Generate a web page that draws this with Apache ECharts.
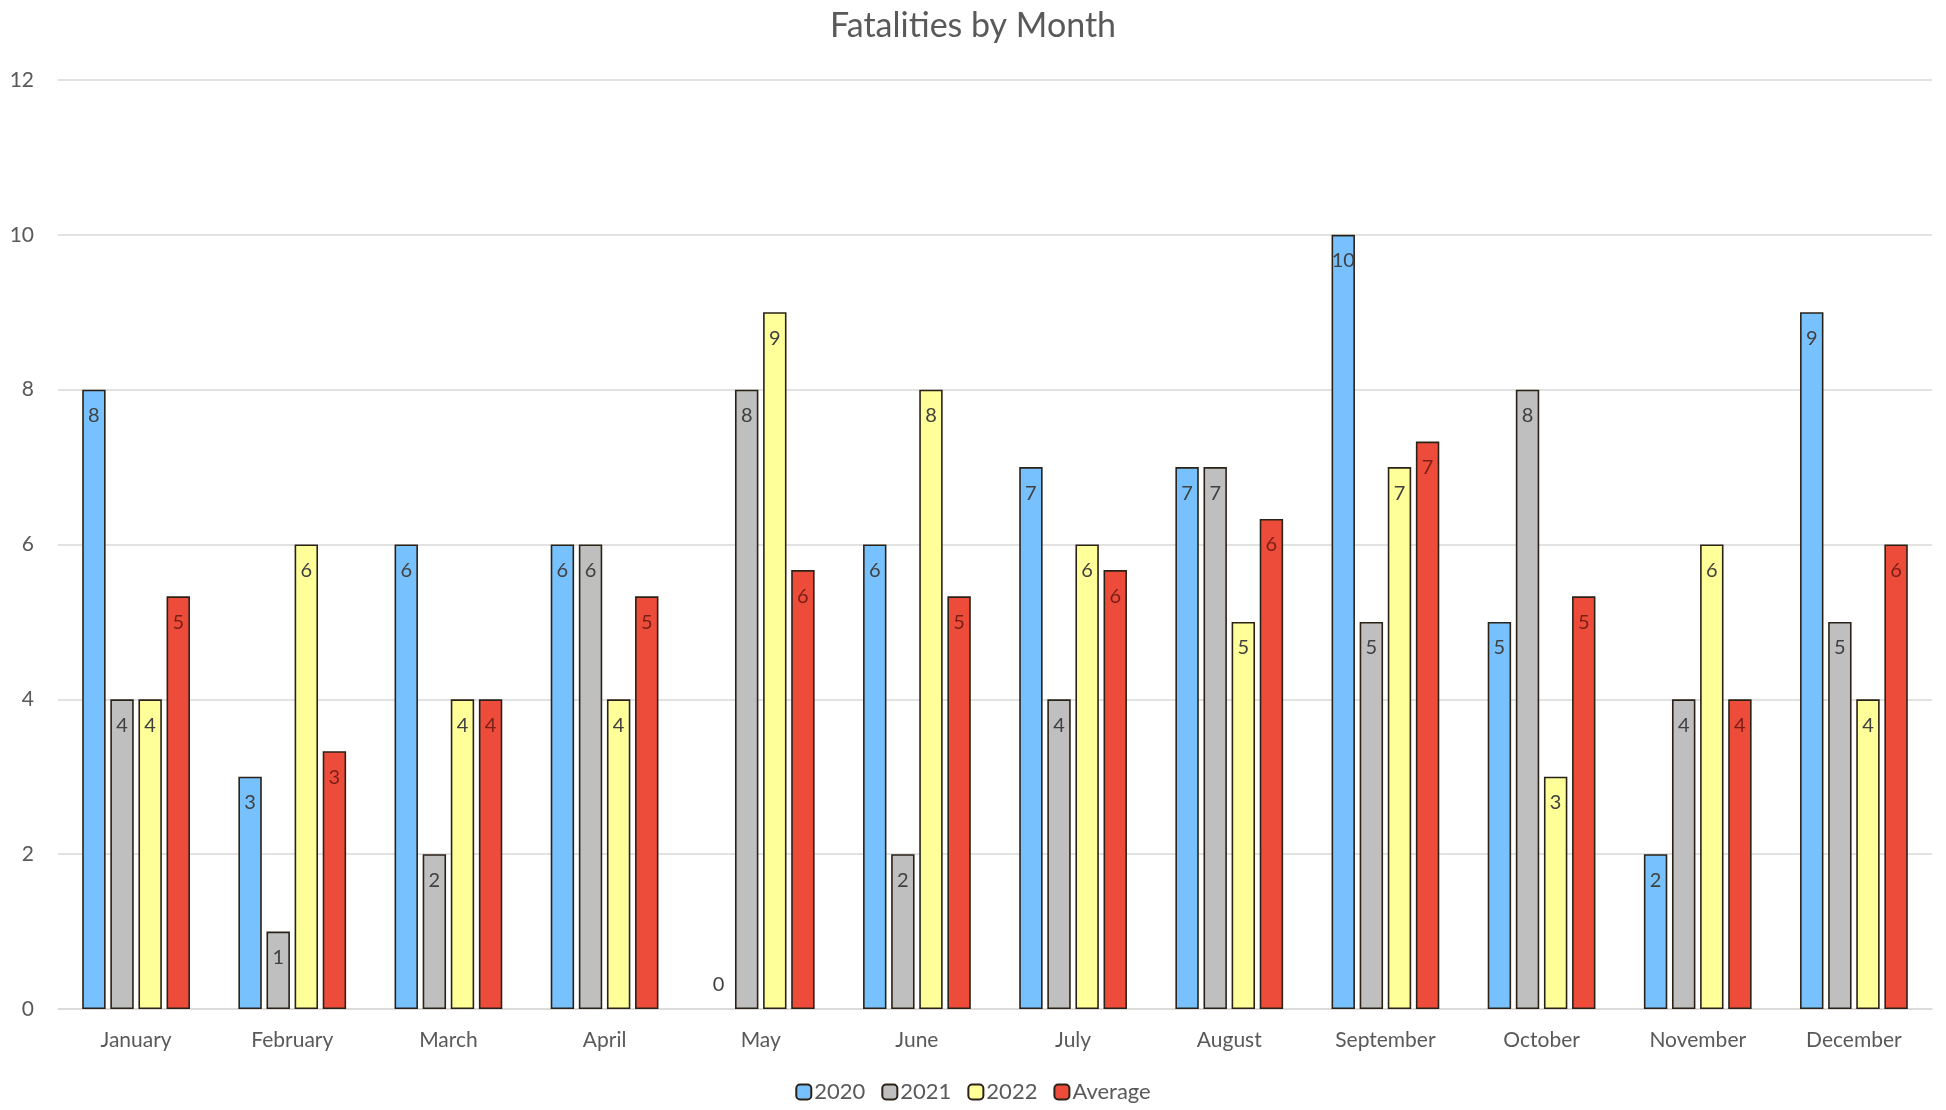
<!DOCTYPE html>
<html>
<head>
<meta charset="utf-8">
<script src="https://cdn.jsdelivr.net/npm/echarts@6/dist/echarts.min.js"></script>
<style>html,body{margin:0;padding:0;background:#fff}#c{width:1946px;height:1110px}</style>
</head>
<body>
<div id="c"></div>
<script>
const months = ['January','February','March','April','May','June','July','August','September','October','November','December'];
const y2020 = [8,3,6,6,0,6,7,7,10,5,2,9];
const y2021 = [4,1,2,6,8,2,4,7,5,8,4,5];
const y2022 = [4,6,4,4,9,8,6,5,7,3,6,4];
const avg = [5.33,3.33,4,5.33,5.67,5.33,5.67,6.33,7.33,5.33,4,6];
const yTicks = [0,2,4,6,8,10,12];

const FONT = 'Lato, "Open Sans", sans-serif';
function mk(name, data, color, labelColor) {
  return {
    name, type: 'bar',
    barGap: '20%', barCategoryGap: '31%',
    itemStyle: { color, borderColor: '#2b2217', borderWidth: 1.6 },
    label: {
      show: true, position: 'insideTop', distance: 16,
      color: labelColor, fontSize: 20, fontFamily: FONT,
      formatter: p => Math.round(p.value)
    },
    data: data.map(v => v === 0 ? { value: v, itemStyle: { borderWidth: 0 }, label: { position: 'top', distance: 14 } } : v)
  };
}
const chart = echarts.init(document.getElementById('c'));
chart.setOption({
  animation: false,
  title: { text: 'Fatalities by Month', left: 'center', top: 4,
    textStyle: { fontFamily: FONT, fontSize: 34, fontWeight: 'normal', color: '#595959' } },
  legend: {
    bottom: 2, left: 'center', itemWidth: 15, itemHeight: 15, itemGap: 16,
    textStyle: { fontFamily: FONT, fontSize: 22, color: '#595959', padding: [0,0,0,-2] },
    data: ['2020','2021','2022','Average']
  },
  grid: { left: 58, right: 14, top: 80, bottom: 101 },
  xAxis: {
    type: 'category', data: months,
    axisLine: { lineStyle: { color: '#d9d9d9', width: 1.5 } },
    axisTick: { show: false },
    axisLabel: { fontFamily: FONT, fontSize: 21, color: '#595959', margin: 21 }
  },
  yAxis: {
    type: 'value', min: yTicks[0], max: yTicks[yTicks.length-1], interval: 2,
    axisLine: { show: false }, axisTick: { show: false },
    axisLabel: { fontFamily: FONT, fontSize: 21, color: '#595959', margin: 24 },
    splitLine: { lineStyle: { color: '#d9d9d9', width: 1.5 } }
  },
  series: [
    mk('2020', y2020, '#77c2fe', '#404040'),
    mk('2021', y2021, '#bfbfbf', '#404040'),
    mk('2022', y2022, '#ffff99', '#404040'),
    mk('Average', avg, '#ee4c3b', '#7a1f16')
  ]
});
</script>
</body>
</html>
